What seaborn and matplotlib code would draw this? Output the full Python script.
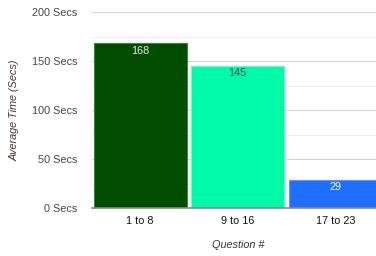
import pandas as pd
import matplotlib.pyplot as plt
import seaborn as sns
from matplotlib.ticker import MultipleLocator

sns.set_style("white")
plt.rcParams['font.family'] = ['Liberation Sans', 'DejaVu Sans']

# Dados
categories = ['1 to 8', '9 to 16', '17 to 23']
avg_time = [168, 145, 29]
bar_colors = ['#004d00', '#00fba8', '#1f6fff']
edge_colors = ['#3f7f3f', '#66ffc6', '#5c95ff']
label_colors = ['#e8e8e8', '#2f4f4f', '#ffffff']

df = pd.DataFrame({'question': categories, 'time': avg_time})

fig = plt.figure(figsize=(3.76, 2.56), dpi=100)
ax = fig.add_axes([91.5 / 376, 48 / 256, 292.5 / 376, 196 / 256])

sns.barplot(data=df, x='question', y='time', hue='question', palette=bar_colors,
            legend=False, width=0.95, ax=ax, zorder=3, saturation=1)

for patch, ec in zip(ax.patches, edge_colors):
    patch.set_edgecolor(ec)
    patch.set_linewidth(0.8)

for i, (v, c) in enumerate(zip(avg_time, label_colors)):
    ax.text(i, v - 2.5, str(v), ha='center', va='top', fontsize=7.8, color=c, zorder=4)

ax.set_ylim(0, 200)
ax.set_xlim(-0.5, 2.5)
ax.yaxis.set_major_locator(MultipleLocator(50))
ax.yaxis.set_minor_locator(MultipleLocator(25))
ax.set_yticks([0, 50, 100, 150, 200])
ax.set_yticklabels([f'{t} Secs' for t in [0, 50, 100, 150, 200]])
ax.grid(axis='y', which='major', color='#d4d4d4', linewidth=0.8, zorder=0)
ax.grid(axis='y', which='minor', color='#efefef', linewidth=0.8, zorder=0)
ax.tick_params(axis='y', which='both', length=0, pad=10, labelsize=7.8, labelcolor='#444444')
ax.tick_params(axis='x', length=0, pad=6, labelsize=7.8, labelcolor='#111111')

for side in ['top', 'right', 'left']:
    ax.spines[side].set_visible(False)
ax.spines['bottom'].set_color('#888888')
ax.spines['bottom'].set_linewidth(1.2)
ax.spines['bottom'].set_zorder(5)

ax.set_xlabel('Question #', fontsize=7.8, style='italic', color='#333333', labelpad=10)
ax.set_ylabel('Average Time (Secs)', fontsize=7.8, style='italic', color='#4a3232')
ax.yaxis.set_label_coords(-72 / 292.5, 0.5)

fig.savefig('out.png', dpi=100)
